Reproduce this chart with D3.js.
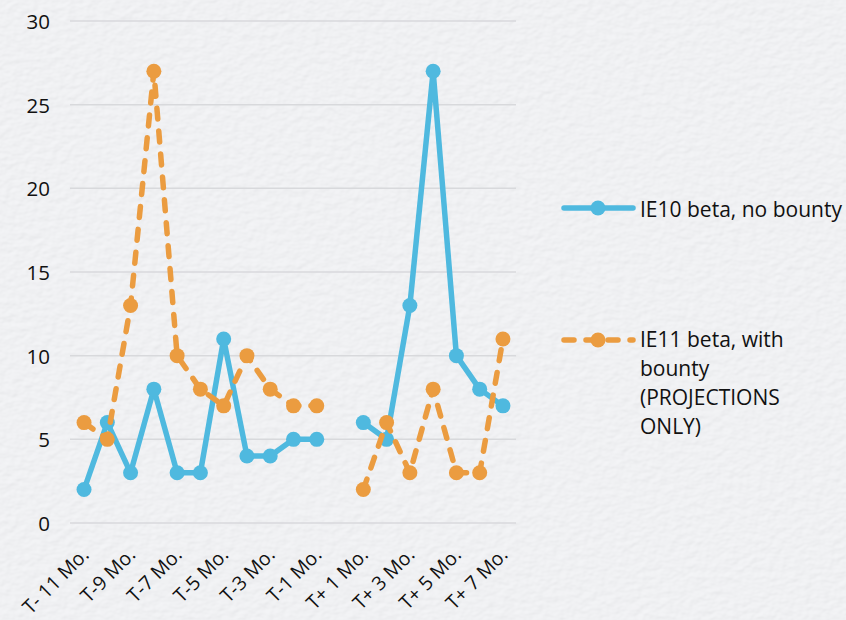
<!DOCTYPE html>
<html>
<head>
<meta charset="utf-8">
<script src="https://cdn.jsdelivr.net/npm/d3@7"></script>
<style>
  html, body { margin: 0; padding: 0; background: #e4e5e8; }
  svg { display: block; }
  text { font-family: "Open Sans", Lato, sans-serif; fill: #111; }
</style>
</head>
<body>
<svg id="chart" width="846" height="620"></svg>
<script>
// Months relative to the beta launch (T); the launch month itself has no data.
const categories = [
  "T- 11 Mo.", "T-10 Mo.", "T-9 Mo.", "T-8 Mo.", "T-7 Mo.", "T-6 Mo.",
  "T-5 Mo.", "T-4 Mo.", "T-3 Mo.", "T-2 Mo.", "T-1 Mo.", "T",
  "T+ 1 Mo.", "T+ 2 Mo.", "T+ 3 Mo.", "T+ 4 Mo.", "T+ 5 Mo.", "T+ 6 Mo.", "T+ 7 Mo."
];
const ie10Values = [2, 6, 3, 8, 3, 3, 11, 4, 4, 5, 5, null, 6, 5, 13, 27, 10, 8, 7];
const ie11Values = [6, 5, 13, 27, 10, 8, 7, 10, 8, 7, 7, null, 2, 6, 3, 8, 3, 3, 11];
const yTicks = [0, 5, 10, 15, 20, 25, 30];
const xTickLabels = [
  "T- 11 Mo.", "T-9 Mo.", "T-7 Mo.", "T-5 Mo.", "T-3 Mo.", "T-1 Mo.",
  "T+ 1 Mo.", "T+ 3 Mo.", "T+ 5 Mo.", "T+ 7 Mo."
];
const legendLines = [
  ["IE10 beta, no bounty"],
  ["IE11 beta, with", "bounty", "(PROJECTIONS", "ONLY)"]
];

const BLUE = "#4fb9df";
const ORANGE = "#eb9c40";
const FONT = "'Open Sans', Lato, sans-serif";

const svg = d3.select("#chart");

// Paper-like textured backdrop
const defs = svg.append("defs");
const f = defs.append("filter").attr("id", "paper")
  .attr("x", 0).attr("y", 0).attr("width", "100%").attr("height", "100%");
f.append("feTurbulence").attr("type", "fractalNoise")
  .attr("baseFrequency", "0.11 0.16").attr("numOctaves", 2).attr("seed", 4).attr("result", "noise");
const light = f.append("feDiffuseLighting").attr("in", "noise")
  .attr("lighting-color", "#ffffff").attr("surfaceScale", 1.5).attr("result", "lit");
light.append("feDistantLight").attr("azimuth", 235).attr("elevation", 50);
f.append("feColorMatrix").attr("in", "lit").attr("type", "matrix")
  .attr("values", "0.16 0 0 0 0.745  0 0.16 0 0 0.752  0 0 0.16 0 0.77  0 0 0 0 1");

svg.append("rect").attr("width", 846).attr("height", 620).attr("filter", "url(#paper)");

const x = d3.scalePoint().domain(categories).range([72.4, 514.6]).padding(0.5);
const y = d3.scaleLinear().domain([0, 30]).range([523, 21]);

// Horizontal gridlines
svg.append("g").selectAll("line").data(yTicks).join("line")
  .attr("x1", 70).attr("x2", 516)
  .attr("y1", d => y(d)).attr("y2", d => y(d))
  .attr("stroke", "#d8d9dc").attr("stroke-width", 1.5);

// Y axis labels
const yAxis = d3.axisLeft(y).tickValues(yTicks).tickSize(0).tickPadding(0);
svg.append("g").attr("transform", "translate(50,0)").call(yAxis)
  .call(g => g.select(".domain").remove())
  .call(g => g.selectAll("text")
    .attr("font-family", FONT)
    .attr("font-size", 20.5).attr("fill", "#111").attr("dy", "0.36em"));

// X axis labels, rotated
const xAxis = d3.axisBottom(x).tickValues(xTickLabels).tickSize(0).tickPadding(0);
svg.append("g").call(xAxis)
  .call(g => g.select(".domain").remove())
  .call(g => g.selectAll(".tick").attr("transform", d => `translate(${x(d) + 6},556)`))
  .call(g => g.selectAll("text")
    .attr("font-family", FONT)
    .attr("font-size", 19.5).attr("fill", "#111")
    .attr("y", 0).attr("dy", 0)
    .attr("text-anchor", "end")
    .attr("transform", "rotate(-45)"));

const line = d3.line()
  .defined(d => d.v != null)
  .x(d => x(d.c)).y(d => y(d.v));

function drawSeries(values, color, dashed) {
  const pts = categories.map((c, i) => ({ c, v: values[i] }));
  const g = svg.append("g");
  g.append("path").datum(pts).attr("d", line)
    .attr("fill", "none").attr("stroke", color).attr("stroke-width", 5.5)
    .attr("stroke-linecap", "round").attr("stroke-linejoin", "round")
    .attr("stroke-dasharray", dashed ? "11,12" : null);
  g.selectAll("circle").data(pts.filter(d => d.v != null)).join("circle")
    .attr("cx", d => x(d.c)).attr("cy", d => y(d.v)).attr("r", 7.5)
    .attr("fill", color);
}
drawSeries(ie10Values, BLUE, false);
drawSeries(ie11Values, ORANGE, true);

// Legend
const leg = svg.append("g");
leg.append("line").attr("x1", 564).attr("x2", 633).attr("y1", 208).attr("y2", 208)
  .attr("stroke", BLUE).attr("stroke-width", 5.5).attr("stroke-linecap", "round");
leg.append("circle").attr("cx", 598).attr("cy", 208).attr("r", 7.5).attr("fill", BLUE);
leg.append("text").attr("x", 640).attr("y", 217).attr("font-family", FONT)
  .attr("font-size", 21).text(legendLines[0][0]);

leg.append("line").attr("x1", 564).attr("x2", 633).attr("y1", 340).attr("y2", 340)
  .attr("stroke", ORANGE).attr("stroke-width", 5.5).attr("stroke-linecap", "round")
  .attr("stroke-dasharray", "10,12");
leg.append("circle").attr("cx", 598).attr("cy", 340).attr("r", 7.5).attr("fill", ORANGE);
const t2 = leg.append("text").attr("x", 640).attr("y", 347)
  .attr("font-family", FONT).attr("font-size", 21);
legendLines[1].forEach((s, i) => {
  t2.append("tspan").attr("x", 640).attr("dy", i === 0 ? 0 : 29).text(s);
});
</script>
</body>
</html>
